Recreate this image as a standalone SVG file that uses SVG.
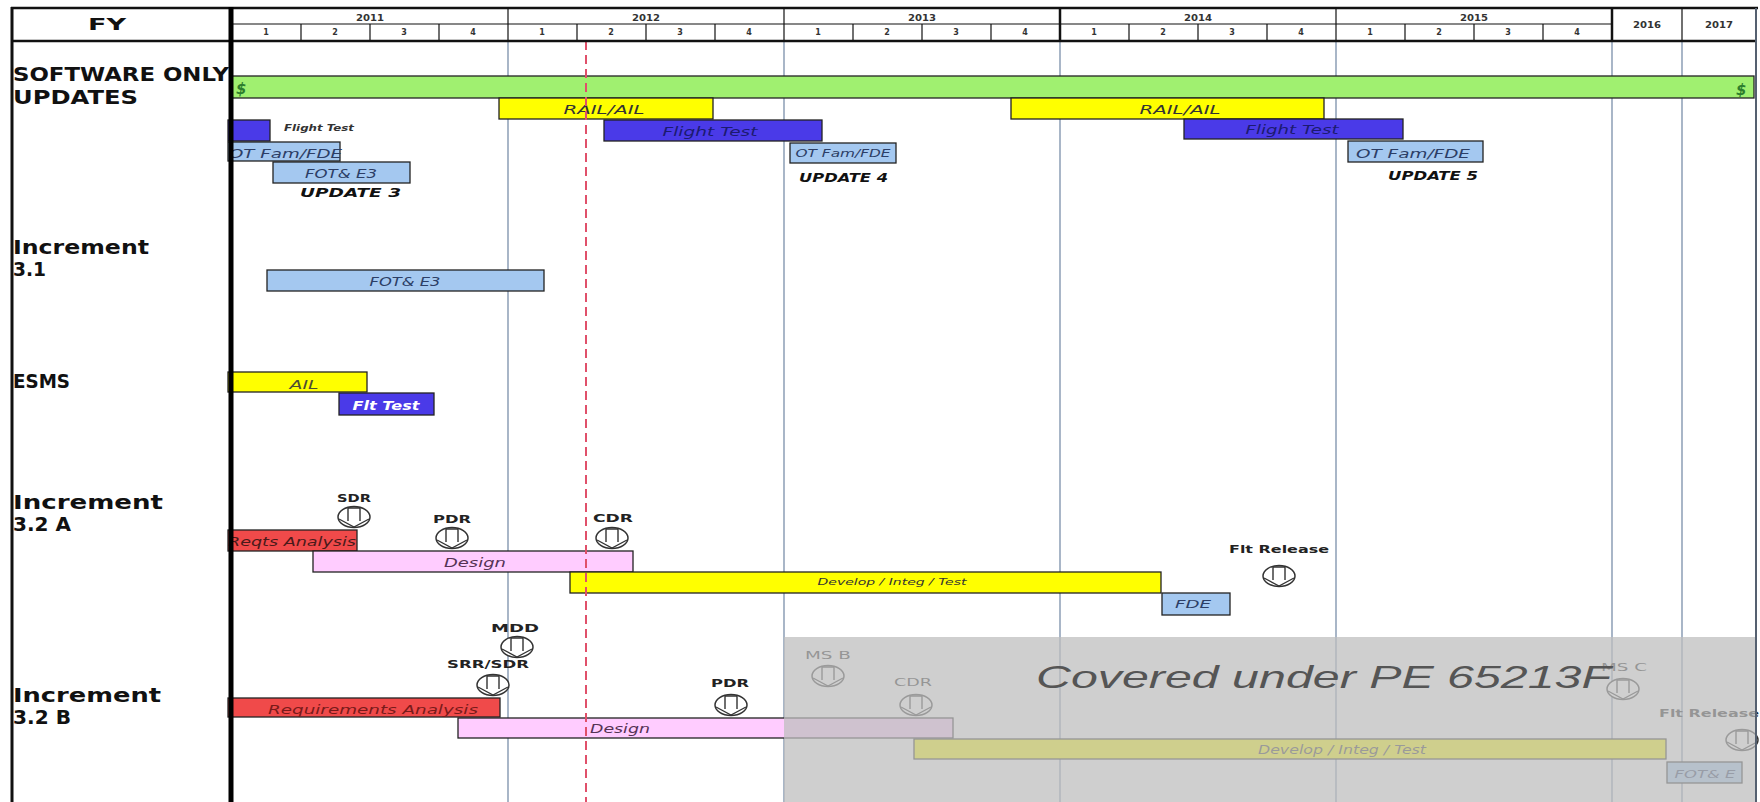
<svg xmlns="http://www.w3.org/2000/svg" xmlns:xlink="http://www.w3.org/1999/xlink" width="1760" height="802" viewBox="0 0 1760 802">
<style>
.lbl{font-family:"DejaVu Sans","Liberation Sans",sans-serif;font-weight:bold;font-size:19px;fill:#111}
.bt{font-family:"DejaVu Sans","Liberation Sans",sans-serif;font-style:italic;font-size:12px;fill:#333}
.mid{text-anchor:middle}
.ms{font-family:"DejaVu Sans","Liberation Sans",sans-serif;font-weight:bold;font-size:11px;fill:#222;text-anchor:middle}
.yr{font-family:"DejaVu Sans","Liberation Sans",sans-serif;font-size:8px;font-weight:bold;fill:#333;text-anchor:middle}
.bar{stroke:#222;stroke-width:1.3}
.green{fill:#A0F070}.yel{fill:#FFFF00}.blue{fill:#4A3AE8}.lb{fill:#A4C8F0}.red{fill:#F04A4A}.pink{fill:#FFCCFF}
.grid{stroke:#8497B0;stroke-width:1.4}
.hdr{stroke:#111;stroke-width:1.2}
.upd{font-family:"DejaVu Sans","Liberation Sans",sans-serif;font-style:italic;font-weight:bold;font-size:13px;fill:#111}
</style>
<defs>
<g id="msi">
<ellipse cx="0" cy="0" rx="16" ry="10.5" fill="#fff" stroke="#333" stroke-width="1.5"/>
<path d="M-6,-10 V4 M6,-10 V4 M-15,2 L0,10 L15,2 M-6,-9 H6" fill="none" stroke="#333" stroke-width="1.4"/>
</g>
</defs>
<rect x="0" y="0" width="1760" height="802" fill="#fff"/>

<g id="grid">
<line class="grid" x1="508" y1="41" x2="508" y2="802"/>
<line class="grid" x1="784" y1="41" x2="784" y2="802"/>
<line class="grid" x1="1060" y1="41" x2="1060" y2="802"/>
<line class="grid" x1="1336" y1="41" x2="1336" y2="802"/>
<line class="grid" x1="1612" y1="41" x2="1612" y2="802"/>
<line class="grid" x1="1682" y1="41" x2="1682" y2="802"/>
</g>

<g id="sw-updates">
<rect class="bar green" x="232" y="76" width="1522" height="22"/>
<text x="236" y="94" style="font-family:'DejaVu Sans',sans-serif;font-style:italic;font-weight:bold;font-size:15px;fill:#2d7d2d">$</text>
<text x="1736" y="95" style="font-family:'DejaVu Sans',sans-serif;font-style:italic;font-weight:bold;font-size:15px;fill:#2d7d2d">$</text>
<rect class="bar yel" x="499" y="98" width="214" height="21"/>
<text class="bt mid" x="604" y="114" font-size="13" textLength="81" lengthAdjust="spacingAndGlyphs" fill="#4d4d33">RAIL/AIL</text>
<rect class="bar yel" x="1011" y="98" width="313" height="21"/>
<text class="bt mid" x="1180" y="114" font-size="13" textLength="81" lengthAdjust="spacingAndGlyphs" fill="#4d4d33">RAIL/AIL</text>
</g>

<g id="update3">
<rect class="bar blue" x="228" y="120" width="42" height="21"/>
<text class="bt" x="284" y="131" style="font-size:9px;font-weight:bold;fill:#333" textLength="70" lengthAdjust="spacingAndGlyphs">Flight Test</text>
<rect class="bar lb" x="228" y="142" width="112" height="19"/>
<text class="bt" x="229" y="158" style="font-size:13px;fill:#2c3e66" textLength="113" lengthAdjust="spacingAndGlyphs">OT Fam/FDE</text>
<rect class="bar lb" x="273" y="162" width="137" height="21"/>
<text class="bt mid" x="341" y="178" style="font-size:13px;fill:#2c3e66" textLength="72" lengthAdjust="spacingAndGlyphs">FOT&amp; E3</text>
<text class="upd" x="300" y="197" textLength="101" lengthAdjust="spacingAndGlyphs">UPDATE 3</text>
</g>

<g id="update4">
<rect class="bar blue" x="604" y="120" width="218" height="21"/>
<text class="bt mid" x="710" y="136" style="font-size:13px;fill:#1c1a70" textLength="95" lengthAdjust="spacingAndGlyphs">Flight Test</text>
<rect class="bar lb" x="790" y="143" width="106" height="20"/>
<text class="bt mid" x="843" y="157" style="font-size:10px;fill:#2c3e66" textLength="95" lengthAdjust="spacingAndGlyphs">OT Fam/FDE</text>
<text class="upd" x="799" y="182" textLength="89" lengthAdjust="spacingAndGlyphs">UPDATE 4</text>
</g>

<g id="update5">
<rect class="bar blue" x="1184" y="119" width="219" height="20"/>
<text class="bt mid" x="1292" y="134" style="font-size:13px;fill:#1c1a70" textLength="93" lengthAdjust="spacingAndGlyphs">Flight Test</text>
<rect class="bar lb" x="1348" y="141" width="135" height="21"/>
<text class="bt mid" x="1413" y="158" style="font-size:13px;fill:#2c3e66" textLength="114" lengthAdjust="spacingAndGlyphs">OT Fam/FDE</text>
<text class="upd" x="1388" y="180" textLength="90" lengthAdjust="spacingAndGlyphs">UPDATE 5</text>
</g>

<g id="inc31">
<rect class="bar lb" x="267" y="270" width="277" height="21"/>
<text class="bt mid" x="405" y="286" style="font-size:12px;fill:#2c3e66" textLength="71" lengthAdjust="spacingAndGlyphs">FOT&amp; E3</text>
</g>

<g id="esms">
<rect class="bar yel" x="228" y="372" width="139" height="20"/>
<text class="bt mid" x="304" y="389" style="font-size:12px;fill:#4d4d33" textLength="29" lengthAdjust="spacingAndGlyphs">AIL</text>
<rect class="bar blue" x="339" y="393" width="95" height="22"/>
<text class="bt mid" x="386" y="410" style="font-size:13px;font-weight:bold;fill:#fff" textLength="67" lengthAdjust="spacingAndGlyphs">Flt Test</text>
</g>

<g id="inc32a">
<rect class="bar red" x="228" y="530" width="129" height="21"/>
<text class="bt" x="228" y="546" style="font-size:12px;fill:#4a1a1a" textLength="128" lengthAdjust="spacingAndGlyphs">Reqts Analysis</text>
<rect class="bar pink" x="313" y="551" width="320" height="21"/>
<text class="bt mid" x="475" y="567" style="font-size:12px;fill:#553355" textLength="62" lengthAdjust="spacingAndGlyphs">Design</text>
<rect class="bar yel" x="570" y="572" width="591" height="21"/>
<text class="bt mid" x="892" y="585" style="font-size:9px;fill:#333" textLength="149" lengthAdjust="spacingAndGlyphs">Develop / Integ / Test</text>
<rect class="bar lb" x="1162" y="593" width="68" height="22"/>
<text class="bt mid" x="1193" y="608" style="font-size:11px;fill:#2c3e66" textLength="36" lengthAdjust="spacingAndGlyphs">FDE</text>
</g>

<g id="ms-32a">
<text class="ms" x="354" y="502" textLength="34" lengthAdjust="spacingAndGlyphs">SDR</text>
<use xlink:href="#msi" href="#msi" x="354" y="517"/>
<text class="ms" x="452" y="523" textLength="38" lengthAdjust="spacingAndGlyphs">PDR</text>
<use xlink:href="#msi" href="#msi" x="452" y="538"/>
<text class="ms" x="613" y="522" textLength="40" lengthAdjust="spacingAndGlyphs">CDR</text>
<use xlink:href="#msi" href="#msi" x="612" y="538"/>
<text class="ms" x="1279" y="553" textLength="100" lengthAdjust="spacingAndGlyphs">Flt Release</text>
<use xlink:href="#msi" href="#msi" x="1279" y="576"/>
</g>

<g id="inc32b">
<rect class="bar red" x="228" y="698" width="272" height="19"/>
<text class="bt mid" x="373" y="714" style="font-size:12px;fill:#7a1a1a" textLength="210" lengthAdjust="spacingAndGlyphs">Requirements Analysis</text>
<rect class="bar pink" x="458" y="718" width="495" height="20"/>
<text class="bt" x="590" y="733" style="font-size:12px;fill:#553355" textLength="60" lengthAdjust="spacingAndGlyphs">Design</text>
<rect class="bar yel" x="914" y="739" width="752" height="20"/>
<text class="bt mid" x="1342" y="754" style="font-size:12px;fill:#333" textLength="168" lengthAdjust="spacingAndGlyphs">Develop / Integ / Test</text>
<rect class="bar lb" x="1667" y="762" width="75" height="21"/>
<text class="bt mid" x="1705" y="778" style="font-size:11px;fill:#2c3e66" textLength="61" lengthAdjust="spacingAndGlyphs">FOT&amp; E</text>
</g>

<g id="ms-32b">
<text class="ms" x="515" y="632" textLength="48" lengthAdjust="spacingAndGlyphs">MDD</text>
<use xlink:href="#msi" href="#msi" x="517" y="647"/>
<text class="ms" x="488" y="668" textLength="82" lengthAdjust="spacingAndGlyphs">SRR/SDR</text>
<use xlink:href="#msi" href="#msi" x="493" y="685"/>
<text class="ms" x="730" y="687" textLength="38" lengthAdjust="spacingAndGlyphs">PDR</text>
<use xlink:href="#msi" href="#msi" x="731" y="705"/>
<text class="ms" x="828" y="659" textLength="46" lengthAdjust="spacingAndGlyphs" style="font-weight:normal">MS B</text>
<use xlink:href="#msi" href="#msi" x="828" y="676"/>
<text class="ms" x="913" y="686" textLength="38" lengthAdjust="spacingAndGlyphs" style="font-weight:normal">CDR</text>
<use xlink:href="#msi" href="#msi" x="916" y="705"/>
<text class="ms" x="1624" y="671" textLength="46" lengthAdjust="spacingAndGlyphs" style="font-weight:normal">MS C</text>
<use xlink:href="#msi" href="#msi" x="1623" y="689"/>
<text class="ms" x="1659" y="717" textLength="100" lengthAdjust="spacingAndGlyphs" style="text-anchor:start">Flt Release</text>
<use xlink:href="#msi" href="#msi" x="1742" y="740"/>
</g>

<g id="today">
<line x1="586" y1="41" x2="586" y2="802" stroke="#E0506A" stroke-width="2" stroke-dasharray="9,5"/>
</g>

<g id="covered">
<rect x="784" y="637" width="972" height="165" fill="#BEBEBE" fill-opacity="0.74"/>
<text x="1036" y="688" style="font-family:'Liberation Sans',Arial,sans-serif;font-style:italic;font-size:32px;fill:#555" textLength="575" lengthAdjust="spacingAndGlyphs">Covered under PE 65213F</text>
</g>

<g id="labels">
<text class="lbl" x="88" y="30" style="font-size:16px" textLength="38" lengthAdjust="spacingAndGlyphs">FY</text>
<text class="lbl" x="13" y="81" textLength="216" lengthAdjust="spacingAndGlyphs">SOFTWARE ONLY</text>
<text class="lbl" x="13" y="104" textLength="125" lengthAdjust="spacingAndGlyphs">UPDATES</text>
<text class="lbl" x="13" y="254" textLength="136" lengthAdjust="spacingAndGlyphs">Increment</text>
<text class="lbl" x="13" y="276" textLength="33" lengthAdjust="spacingAndGlyphs">3.1</text>
<text class="lbl" x="13" y="388" textLength="57" lengthAdjust="spacingAndGlyphs">ESMS</text>
<text class="lbl" x="13" y="509" textLength="150" lengthAdjust="spacingAndGlyphs">Increment</text>
<text class="lbl" x="13" y="531" textLength="58" lengthAdjust="spacingAndGlyphs">3.2 A</text>
<text class="lbl" x="13" y="702" textLength="148" lengthAdjust="spacingAndGlyphs">Increment</text>
<text class="lbl" x="13" y="724" textLength="58" lengthAdjust="spacingAndGlyphs">3.2 B</text>
</g>

<g id="header">
<line x1="232" y1="24" x2="1612" y2="24" class="hdr"/>
<g class="hdr">
<line x1="301" y1="24" x2="301" y2="41"/><line x1="370" y1="24" x2="370" y2="41"/><line x1="439" y1="24" x2="439" y2="41"/>
<line x1="577" y1="24" x2="577" y2="41"/><line x1="646" y1="24" x2="646" y2="41"/><line x1="715" y1="24" x2="715" y2="41"/>
<line x1="853" y1="24" x2="853" y2="41"/><line x1="922" y1="24" x2="922" y2="41"/><line x1="991" y1="24" x2="991" y2="41"/>
<line x1="1129" y1="24" x2="1129" y2="41"/><line x1="1198" y1="24" x2="1198" y2="41"/><line x1="1267" y1="24" x2="1267" y2="41"/>
<line x1="1405" y1="24" x2="1405" y2="41"/><line x1="1474" y1="24" x2="1474" y2="41"/><line x1="1543" y1="24" x2="1543" y2="41"/>
<line x1="508" y1="8" x2="508" y2="41"/><line x1="784" y1="8" x2="784" y2="41"/><line x1="1336" y1="8" x2="1336" y2="41"/><line x1="1682" y1="8" x2="1682" y2="41"/>
</g>
<line x1="1060" y1="8" x2="1060" y2="41" stroke="#111" stroke-width="2.5"/>
<line x1="1612" y1="8" x2="1612" y2="41" stroke="#111" stroke-width="2.5"/>
<text class="yr" x="370" y="21" textLength="28" lengthAdjust="spacingAndGlyphs">2011</text>
<text class="yr" x="646" y="21" textLength="28" lengthAdjust="spacingAndGlyphs">2012</text>
<text class="yr" x="922" y="21" textLength="28" lengthAdjust="spacingAndGlyphs">2013</text>
<text class="yr" x="1198" y="21" textLength="28" lengthAdjust="spacingAndGlyphs">2014</text>
<text class="yr" x="1474" y="21" textLength="28" lengthAdjust="spacingAndGlyphs">2015</text>
<text class="yr" x="1647" y="28" textLength="28" lengthAdjust="spacingAndGlyphs">2016</text>
<text class="yr" x="1719" y="28" textLength="28" lengthAdjust="spacingAndGlyphs">2017</text>
<g class="yr">
<text x="266" y="35">1</text><text x="335" y="35">2</text><text x="404" y="35">3</text><text x="473" y="35">4</text>
<text x="542" y="35">1</text><text x="611" y="35">2</text><text x="680" y="35">3</text><text x="749" y="35">4</text>
<text x="818" y="35">1</text><text x="887" y="35">2</text><text x="956" y="35">3</text><text x="1025" y="35">4</text>
<text x="1094" y="35">1</text><text x="1163" y="35">2</text><text x="1232" y="35">3</text><text x="1301" y="35">4</text>
<text x="1370" y="35">1</text><text x="1439" y="35">2</text><text x="1508" y="35">3</text><text x="1577" y="35">4</text>
</g>
</g>

<g id="frame">
<line x1="11" y1="8" x2="1758" y2="8" stroke="#111" stroke-width="2.5"/>
<line x1="11" y1="41" x2="1756" y2="41" stroke="#111" stroke-width="2.5"/>
<line x1="12" y1="7" x2="12" y2="802" stroke="#111" stroke-width="3"/>
<line x1="231" y1="7" x2="231" y2="802" stroke="#000" stroke-width="5"/>
<line x1="1756" y1="8" x2="1756" y2="802" stroke="#556070" stroke-width="2"/>
</g>
</svg>
